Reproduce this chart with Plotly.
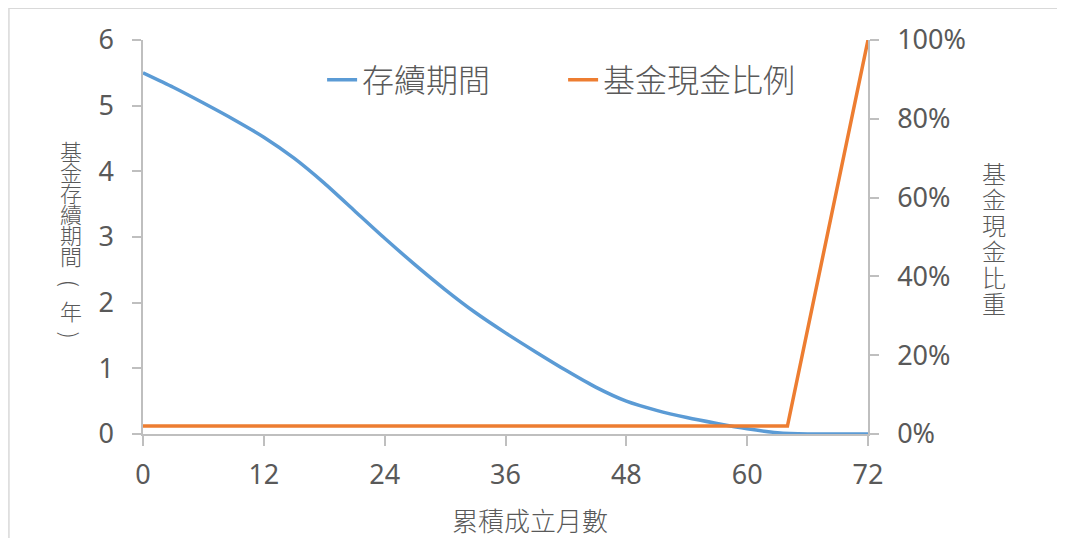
import plotly.graph_objects as go

months = [0, 3, 6, 9, 12, 15, 18, 21, 24, 27, 30, 33, 36, 39, 42, 45, 48, 51, 54, 57, 60, 63, 66, 69, 72]
duration = [5.50, 5.28, 5.04, 4.79, 4.52, 4.20, 3.82, 3.40, 2.98, 2.58, 2.20, 1.85, 1.54, 1.25, 0.97, 0.71, 0.50, 0.36, 0.25, 0.16, 0.08, 0.02, 0.00, 0.00, 0.00]
cash_months = [0, 64, 72]
cash_ratio = [2, 2, 100]

x_ticks = [0, 12, 24, 36, 48, 60, 72]
y_left_ticks = [0, 1, 2, 3, 4, 5, 6]
y_right_ticks = [0, 20, 40, 60, 80, 100]

name_duration = "存續期間"
name_cash = "基金現金比例"
x_title = "累積成立月數"
left_title_main = ["基", "金", "存", "續", "期", "間"]
left_title_unit = ["(", "年", ")"]
right_title = ["基", "金", "現", "金", "比", "重"]

# page has an 8px body margin; keep the figure inside the window so no scrollbars appear
OFF = 8
W, H = 1065 - OFF, 530
L_REF, T_REF = 143, 38
PW, PH = 724.6, 395.6
L = L_REF - OFF
T = T_REF - OFF
R = W - L - PW
B = H - T - PH

def px(xp):
    return (xp - L_REF) / PW

def py(yp):
    return (T_REF + PH - yp) / PH

GRAY = "#595959"
AX = "#bfbfbf"
FONT = "Noto Sans, Noto Sans CJK TC, sans-serif"
CJK = "Noto Sans CJK TC, sans-serif"

def stacked(chars, size):
    return "<br>".join(f"<span style='font-size:{size}px'>{c}</span>" for c in chars)

fig = go.Figure()
fig.add_trace(go.Scatter(x=months, y=duration, mode="lines", name=name_duration,
                         line=dict(color="#5b9bd5", width=3.5, shape="spline", smoothing=0.6)))
fig.add_trace(go.Scatter(x=cash_months, y=cash_ratio, mode="lines", name=name_cash, yaxis="y2",
                         line=dict(color="#ed7d31", width=3.5)))

fig.update_layout(
    width=W, height=H,
    margin=dict(l=L, r=R, t=T, b=B),
    paper_bgcolor="white", plot_bgcolor="white",
    font=dict(family=FONT, color=GRAY, size=27),
    showlegend=True,
    legend=dict(orientation="h", x=px(322), y=py(78), xanchor="left", yanchor="middle",
                font=dict(family=CJK, size=32, color=GRAY, weight=300),
                bgcolor="rgba(0,0,0,0)", entrywidth=196, entrywidthmode="pixels"),
    xaxis=dict(range=[0, 72], tickvals=x_ticks, ticktext=[str(v) for v in x_ticks],
               showgrid=False, zeroline=False, showline=True, linecolor=AX, linewidth=1.5,
               ticks="outside", ticklen=10, tickcolor=AX, tickwidth=1.5,
               tickfont=dict(size=27, color=GRAY), ticklabelstandoff=6),
    yaxis=dict(range=[0, 6], tickvals=y_left_ticks, showgrid=False, zeroline=False,
               showline=True, linecolor=AX, linewidth=1.5,
               ticks="outside", ticklen=9, tickcolor=AX, tickwidth=1.5,
               tickfont=dict(size=27, color=GRAY), ticklabelstandoff=13),
    yaxis2=dict(range=[0, 100], tickvals=y_right_ticks, ticktext=[f"{v}%" for v in y_right_ticks],
                overlaying="y", side="right", showgrid=False, zeroline=False,
                showline=True, linecolor=AX, linewidth=1.5,
                ticks="outside", ticklen=9, tickcolor=AX, tickwidth=1.5,
                tickfont=dict(size=27, color=GRAY), ticklabelstandoff=13),
)

fig.add_shape(type="rect", xref="paper", yref="paper",
              x0=px(9), x1=px(1067), y0=py(600), y1=py(6),
              line=dict(color="#d9d9d9", width=1.5), layer="below")

fig.add_annotation(text=x_title, xref="paper", yref="paper", x=px(530), y=py(519),
                   showarrow=False, font=dict(family=CJK, size=26, color=GRAY, weight=300),
                   xanchor="center", yanchor="middle")

fig.add_annotation(text=stacked(left_title_main, 22), xref="paper", yref="paper",
                   x=px(71), y=py(201), showarrow=False,
                   font=dict(family=CJK, size=16.2, color=GRAY, weight=300),
                   xanchor="center", yanchor="middle", align="center")

for ch, yy in zip(left_title_unit, [283, 309, 335]):
    paren = ch in "()"
    fig.add_annotation(text=ch, xref="paper", yref="paper", x=px(71), y=py(yy),
                       showarrow=False, font=dict(family=CJK, size=22, color=GRAY, weight=300),
                       xanchor="center", yanchor="middle", textangle=90 if paren else 0)

fig.add_annotation(text=stacked(right_title, 24), xref="paper", yref="paper",
                   x=px(994), y=py(236), showarrow=False,
                   font=dict(family=CJK, size=20, color=GRAY, weight=300),
                   xanchor="center", yanchor="middle", align="center")

fig.write_html("out.html")
